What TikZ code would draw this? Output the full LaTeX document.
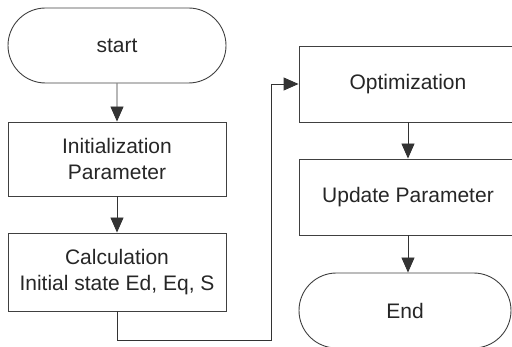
\documentclass[tikz,border=0pt]{standalone}
\usepackage{fontspec}
\setmainfont{Liberation Sans}
\usepackage{tikz}
\usetikzlibrary{arrows.meta,shapes.misc}

\tikzset{
  box/.style={draw=black!75, line width=0.9pt, rectangle, minimum width=218pt,
    align=center, inner sep=0pt},
  term/.style={draw=black!75, line width=0.9pt, rounded rectangle, align=center,
    inner sep=0pt},
  flow/.style={draw=black!80, line width=0.9pt, -{Triangle[length=15pt,width=13pt]}}
}

\begin{document}
\begin{tikzpicture}[x=1pt,y=-1pt,font=\fontsize{21}{26}\selectfont\color{black!85}]
  \useasboundingbox (0,0) rectangle (512,347);
  \clip (0,0) rectangle (512,347);
  % left column
  \node[term, minimum width=218pt, minimum height=75pt] (start) at (117,45.5) {start};
  \node[box, minimum height=74pt] (init) at (117,159) {Initialization\\Parameter};
  \node[box, minimum height=78pt] (calc) at (117,272) {Calculation\\Initial state Ed, Eq, S};
  % right column
  \node[box, minimum height=76pt] (opt) at (408,84) {Optimization};
  \node[box, minimum height=76pt] (update) at (408,197) {Update Parameter};
  \node[term, minimum width=212pt, minimum height=75pt] (stop) at (405,310.5) {End};
  \coordinate (c1) at (117,340);
  \coordinate (c2) at (271,340);
  \coordinate (c3) at (271,84);
  % connectors
  \draw[flow] (start) -- (init);
  \draw[flow] (init) -- (calc);
  \draw[flow] (calc.south) -- (c1) -- (c2) -- (c3) -- (opt.west);
  \draw[flow] (opt) -- (update);
  \draw[flow] (update.south) -- (update.south |- stop.north);
\end{tikzpicture}
\end{document}
